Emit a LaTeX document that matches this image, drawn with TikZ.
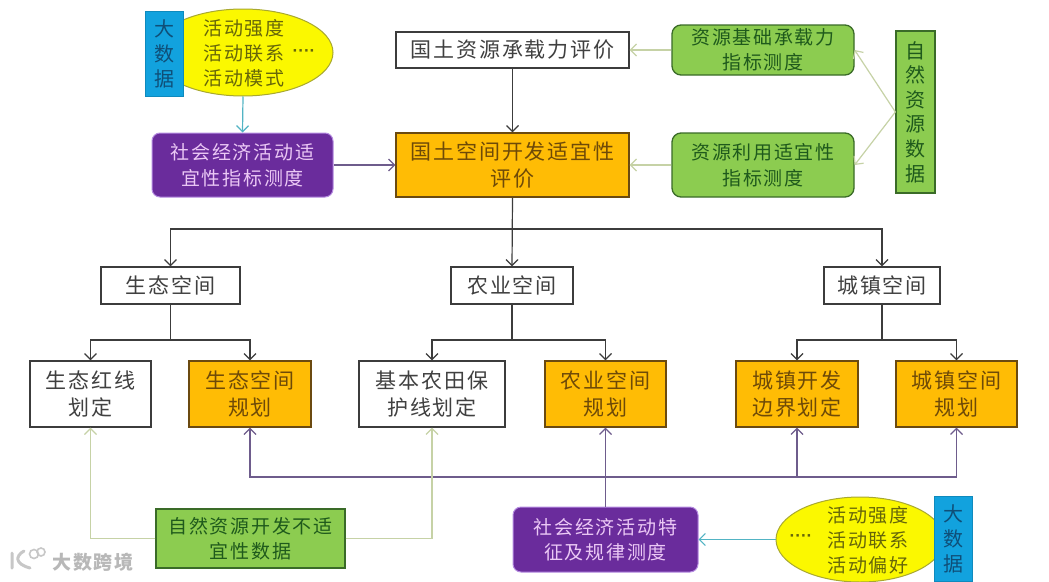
\documentclass[tikz,border=0pt]{standalone}
\usepackage{fontspec}
\setmainfont{Noto Sans CJK SC}[LetterSpace=9]
\newfontfamily\dotfont{Liberation Sans}
\usetikzlibrary{arrows.meta,shapes.geometric}
\definecolor{cOrange}{HTML}{FFBC05}
\definecolor{cOrangeD}{HTML}{6B4A10}
\definecolor{cOrangeT}{HTML}{6E4A08}
\definecolor{cGreen}{HTML}{8CCC50}
\definecolor{cGreenD}{HTML}{3A6B28}
\definecolor{cGreenT}{HTML}{1F5A1C}
\definecolor{cPurple}{HTML}{6A2C9C}
\definecolor{cPurpleD}{HTML}{B58BE0}
\definecolor{cPurpleT}{HTML}{EBC8F5}
\definecolor{cYellow}{HTML}{FBF800}
\definecolor{cYellowD}{HTML}{A8A830}
\definecolor{cYellowT}{HTML}{66660A}
\definecolor{cBlue}{HTML}{12A2DE}
\definecolor{cBlueT}{HTML}{0F4F78}
\definecolor{cLine}{HTML}{3C3C3C}
\definecolor{cLineG}{HTML}{C6D2A6}
\definecolor{cLineP}{HTML}{6E5C8C}
\definecolor{cLineT}{HTML}{52B4C4}
\tikzset{
  txtbig/.style={font=\fontsize{21}{27}\selectfont,align=center,inner sep=0pt},
  txtsmall/.style={font=\fontsize{19}{25.5}\selectfont,align=center,inner sep=0pt},
  whitebox/.style={rectangle,draw=cLine,line width=1.3pt,fill=white,text=black!75,txtbig},
  orangebox/.style={rectangle,draw=cOrangeD,line width=1.3pt,fill=cOrange,text=cOrangeT,txtbig},
  greenround/.style={rectangle,rounded corners=9pt,draw=cGreenD,line width=1.3pt,fill=cGreen,text=cGreenT,txtsmall},
  greensq/.style={rectangle,draw=cGreenD,line width=1.3pt,fill=cGreen,text=cGreenT,txtsmall},
  purplebox/.style={rectangle,rounded corners=8pt,draw=cPurpleD,line width=1pt,fill=cPurple,text=cPurpleT,txtsmall},
  yellowell/.style={ellipse,draw=cYellowD,line width=1pt,fill=cYellow,inner sep=0pt},
  bluebox/.style={rectangle,draw=cBlue!85!black,line width=.6pt,fill=cBlue,text=cBlueT,font=\fontsize{20}{25}\selectfont,align=center,inner sep=0pt},
  elltext/.style={text=cYellowT,font=\fontsize{19}{25}\selectfont,align=center,inner sep=0pt},
  elldots/.style={text=cYellowT,font=\dotfont\fontsize{17}{17}\selectfont\bfseries,inner sep=0pt},
  conn/.style={draw=cLine,line width=1.2pt,-{Straight Barb[length=6pt,width=12pt]}},
  plainconn/.style={draw=cLine,line width=1.2pt},
  connG/.style={draw=cLineG,line width=1.2pt,-{Straight Barb[length=6pt,width=12pt]}},
  connP/.style={draw=cLineP,line width=1.2pt,-{Straight Barb[length=6pt,width=12pt]}},
  connT/.style={draw=cLineT,line width=1.2pt,-{Straight Barb[length=6pt,width=12pt]}},
  mark text/.style={text=black!28,font=\fontsize{19}{19}\selectfont\bfseries,inner sep=0pt}
}
\begin{document}
\begin{tikzpicture}[x=1pt,y=-1pt]
\useasboundingbox[fill=white] (0,0) rectangle (1049,581);
% top left cluster
\node[yellowell,minimum width=180pt,minimum height=87pt] (e1) at (243,52.5) {};
\node[bluebox,minimum width=38pt,minimum height=85pt] (bd1) at (164,53.5) {大\\数\\据};
\node[elltext] (e1t) at (244,53) {活动强度\\活动联系\\活动模式};
\node[elldots] (e1d) at (304,53) {····};
\node[purplebox,minimum width=181pt,minimum height=64pt] (p1) at (242.5,165) {社会经济活动适\\宜性指标测度};
% centre column
\node[whitebox,minimum width=233pt,minimum height=36pt] (g1) at (512.5,50) {国土资源承载力评价};
\node[orangebox,minimum width=233pt,minimum height=64pt] (o) at (512.5,165) {国土空间开发适宜性\\评价};
% right
\node[greenround,minimum width=182pt,minimum height=50pt] (gr1) at (763,50) {资源基础承载力\\指标测度};
\node[greenround,minimum width=182pt,minimum height=64pt] (gr2) at (763,165) {资源利用适宜性\\指标测度};
\node[greensq,minimum width=39pt,minimum height=162pt,font=\fontsize{20}{24.6}\selectfont] (z) at (915.5,112) {自\\然\\资\\源\\数\\据};
% spaces
\node[whitebox,minimum width=139pt,minimum height=37pt] (sp) at (170.5,285.5) {生态空间};
\node[whitebox,minimum width=122pt,minimum height=37pt] (np) at (512,285.5) {农业空间};
\node[whitebox,minimum width=116pt,minimum height=37pt] (cz) at (882,285.5) {城镇空间};
% row
\node[whitebox,minimum width=121pt,minimum height=66pt] (a) at (90.5,394) {生态红线\\划定};
\node[orangebox,minimum width=122pt,minimum height=66pt] (b) at (250,394) {生态空间\\规划};
\node[whitebox,minimum width=146pt,minimum height=66pt] (c) at (432,394) {基本农田保\\护线划定};
\node[orangebox,minimum width=121pt,minimum height=66pt] (d) at (605.5,394) {农业空间\\规划};
\node[orangebox,minimum width=122pt,minimum height=66pt] (e) at (797,394) {城镇开发\\边界划定};
\node[orangebox,minimum width=121pt,minimum height=66pt] (f) at (956.5,394) {城镇空间\\规划};
% bottom
\node[greensq,minimum width=189pt,minimum height=59pt] (g3) at (250.5,538.5) {自然资源开发不适\\宜性数据};
\node[purplebox,minimum width=185pt,minimum height=65pt] (p2) at (605.5,539.5) {社会经济活动特\\征及规律测度};
\node[yellowell,minimum width=168pt,minimum height=85pt] (e2) at (860,539.5) {};
\node[bluebox,minimum width=38pt,minimum height=85pt] (bd2) at (953,538.5) {大\\数\\据};
\node[elltext] (e2t) at (868,540) {活动强度\\活动联系\\活动偏好};
\node[elldots] (e2d) at (801,538) {····};
% helper coordinates
\coordinate (bus1) at (512.5,229);
\coordinate (busa) at (170.5,340);
\coordinate (busc) at (512,340);
\coordinate (buse) at (882,340);
\coordinate (busp) at (605.5,477);
% connectors
\draw[connT] (e1.south) -- (p1.north);
\draw[conn,draw=cLineP] (p1.east) -- (o.west);
\draw[conn] (g1.south) -- (o.north);
\draw[connG] (gr1.west) -- (g1.east);
\draw[connG] (gr2.west) -- (o.east);
\draw[connG] (z.west) -- (gr1.east);
\draw[connG] (z.west) -- (gr2.east);
\draw[conn] (o.south) -- (np.north);
\draw[conn] (bus1) -| (sp.north);
\draw[conn] (bus1) -| (cz.north);
\draw[plainconn] (sp.south) -- (busa);
\draw[conn] (busa) -| (a.north);
\draw[conn] (busa) -| (b.north);
\draw[plainconn] (np.south) -- (busc);
\draw[conn] (busc) -| (c.north);
\draw[conn] (busc) -| (d.north);
\draw[plainconn] (cz.south) -- (buse);
\draw[conn] (buse) -| (e.north);
\draw[conn] (buse) -| (f.north);
\draw[connP] (p2.north) -- (d.south);
\draw[connP] (busp) -| (b.south);
\draw[connP] (busp) -| (f.south);
\draw[connP] (e.south |- busp) -- (e.south);
\draw[connG] (g3.west) -| (a.south);
\draw[connG] (g3.east) -| (c.south);
\draw[connT] (e2.west) -- (p2.east);
% watermark
\draw[black!22,line width=3pt,line cap=round,line join=round] (12,553) -- (12,568) (24,551) .. controls (15,556) and (15,564) .. (30,568);
\draw[black!22,line width=1.6pt] (34,554) circle (4.5pt) (41,552) circle (4pt);
\node[mark text] (wm) at (93,562) {大数跨境};
\end{tikzpicture}
\end{document}
